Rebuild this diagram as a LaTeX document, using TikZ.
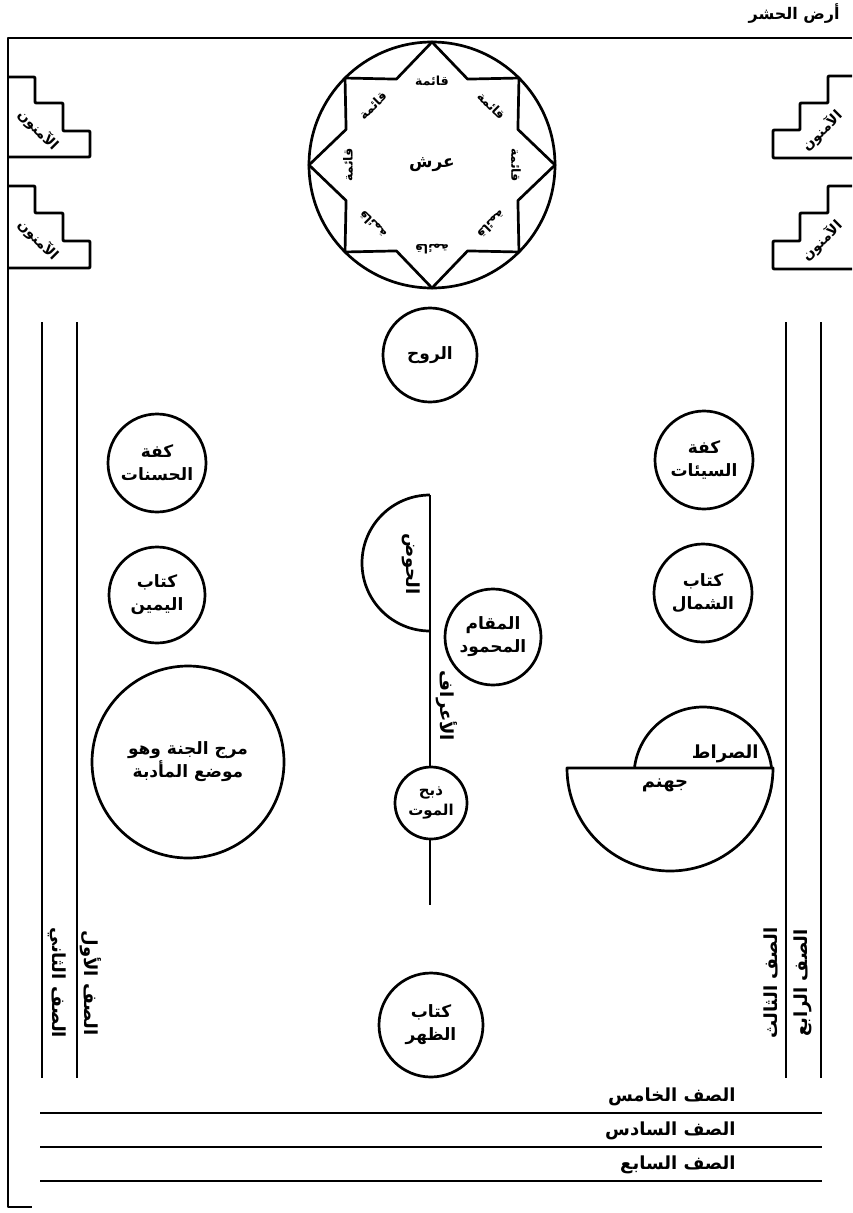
\documentclass[tikz,border=0pt]{standalone}
\usepackage{fontspec}
\newfontfamily\arfont[Script=Arabic]{DejaVu Sans}
\TeXXeTstate=1
\newcommand\artx[1]{{\arfont\bfseries\beginR #1\endR}}
\begin{document}
\begin{tikzpicture}[x=1pt,y=-1pt,line width=2.7pt,line join=round,
  every node/.style={inner sep=0pt},
  bub/.style={circle,draw,fill=white,align=center,font=\fontsize{17}{23}\selectfont},
  lbl/.style={font=\fontsize{18}{20}\selectfont},
  small/.style={font=\fontsize{12.5}{15}\selectfont},
  stairs/.style={line width=2.9pt,rounded corners=1pt}]
\useasboundingbox (0,0) rectangle (852,1213);
% frame
\coordinate (fr1) at (852,38);
\coordinate (fr2) at (8,38);
\coordinate (fr3) at (8,1207);
\coordinate (fr4) at (32,1207);
\draw (fr1) -- (fr2) -- (fr3) -- (fr4);
\node[font=\fontsize{16}{18}\selectfont,anchor=east] (title) at (841,14) {\artx{أرض الحشر}};
% throne
\coordinate (c) at (432,165);
\node[circle,draw,minimum size=246pt] (throne) at (c) {};
\draw ([shift={(90:123pt)}]c)
  \foreach \k/\rr in {1/93,2/123,3/93,4/123,5/93,6/123,7/93,8/123,9/93,10/123,11/93,12/123,13/93,14/123,15/93}{ -- ([shift={(90+22.5*\k:\rr pt)}]c) } -- cycle;
\node[font=\fontsize{17}{19}\selectfont] (arsh) at (c) {\artx{عرش}};
\foreach \a [count=\i] in {90,135,180,225,270,315,0,45}{
  \node[small,rotate=\a-90] (q\i) at ([shift={(\a:84pt)}]c) {\artx{قائمة}};
}
% stairs left
\draw[stairs] (8,77) -- (35,77) -- (35,103) -- (63,103) -- (63,131) -- (90,131) -- (90,157) -- (8,157);
\draw[stairs] (8,186) -- (35,186) -- (35,213) -- (63,213) -- (63,241) -- (90,241) -- (90,268) -- (8,268);
\node[font=\fontsize{14}{16}\selectfont,rotate=-45] (am1) at (38,130) {\artx{الآمنون}};
\node[font=\fontsize{14}{16}\selectfont,rotate=-45] (am2) at (38,240) {\artx{الآمنون}};
% stairs right
\draw[stairs] (852,76) -- (828,76) -- (828,103) -- (800,103) -- (800,130) -- (773,130) -- (773,158) -- (852,158);
\draw[stairs] (852,186) -- (828,186) -- (828,213) -- (800,213) -- (800,241) -- (773,241) -- (773,269) -- (852,269);
\node[font=\fontsize{14}{16}\selectfont,rotate=45] (am3) at (822,131) {\artx{الآمنون}};
\node[font=\fontsize{14}{16}\selectfont,rotate=45] (am4) at (822,241) {\artx{الآمنون}};
% vertical rows
\coordinate (v1t) at (42,322); \coordinate (v1b) at (42,1078);
\coordinate (v2t) at (77,322); \coordinate (v2b) at (77,1078);
\coordinate (v3t) at (786,322); \coordinate (v3b) at (786,1078);
\coordinate (v4t) at (821,322); \coordinate (v4b) at (821,1078);
\draw (v1t) -- (v1b); \draw (v2t) -- (v2b); \draw (v3t) -- (v3b); \draw (v4t) -- (v4b);
\node[lbl,rotate=-90] (s2) at (57,983) {\artx{الصف الثاني}};
\node[lbl,rotate=-90] (s1) at (91,983) {\artx{الصف الأول}};
\node[lbl,rotate=90] (s3) at (771,983) {\artx{الصف الثالث}};
\node[lbl,rotate=90] (s4) at (803,983) {\artx{الصف الرابع}};
% central line
\coordinate (mt) at (430,495);
\coordinate (mb) at (430,905);
\draw (mt) -- (mb);
\draw (mt) arc[start angle=90,end angle=270,radius=68pt];
\node[lbl,rotate=-90] (hawd) at (411,564) {\artx{الحوض}};
\node[lbl,rotate=-90] (araf) at (447,706) {\artx{الأعراف}};
% circles
\node[bub,minimum size=94pt] (ruh) at (430,355) {\artx{الروح}};
\node[bub,minimum size=98pt] (kh) at (157,463) {\artx{كفة}\\\artx{الحسنات}};
\node[bub,minimum size=98pt] (ks) at (704,460) {\artx{كفة}\\\artx{السيئات}};
\node[bub,minimum size=96pt] (ky) at (157,595) {\artx{كتاب}\\\artx{اليمين}};
\node[bub,minimum size=98pt] (kshm) at (703,593) {\artx{كتاب}\\\artx{الشمال}};
\node[bub,minimum size=96pt] (maq) at (493,637) {\artx{المقام}\\\artx{المحمود}};
\node[bub,minimum size=192pt] (marj) at (188,762) {\artx{مرج الجنة وهو}\\\artx{موضع المأدبة}};
\node[bub,minimum size=72pt,font=\fontsize{15}{20}\selectfont] (dhabh) at (431,803) {\artx{ذبح}\\\artx{الموت}};
\node[bub,minimum size=104pt] (kz) at (431,1025) {\artx{كتاب}\\\artx{الظهر}};
% sirat and jahannam
\node[circle,draw,minimum size=138pt] (sirat) at (703,776) {};
\draw[fill=white] (567,768) -- (773,768) arc[start angle=0,end angle=-180,radius=103pt] -- cycle;
\node[lbl,anchor=east] (siratt) at (760,754) {\artx{الصراط}};
\node[lbl] (jah) at (665,785) {\artx{جهنم}};
% bottom rows
\foreach \yy/\tx [count=\j] in {1113/الصف الخامس,1147/الصف السادس,1181/الصف السابع}{
  \coordinate (bl\j) at (40,\yy);
  \coordinate (br\j) at (822,\yy);
  \draw (bl\j) -- (br\j);
  \node[lbl,anchor=east] (bt\j) at (737,\yy-16) {\artx{\tx}};
}
\end{tikzpicture}
\end{document}
